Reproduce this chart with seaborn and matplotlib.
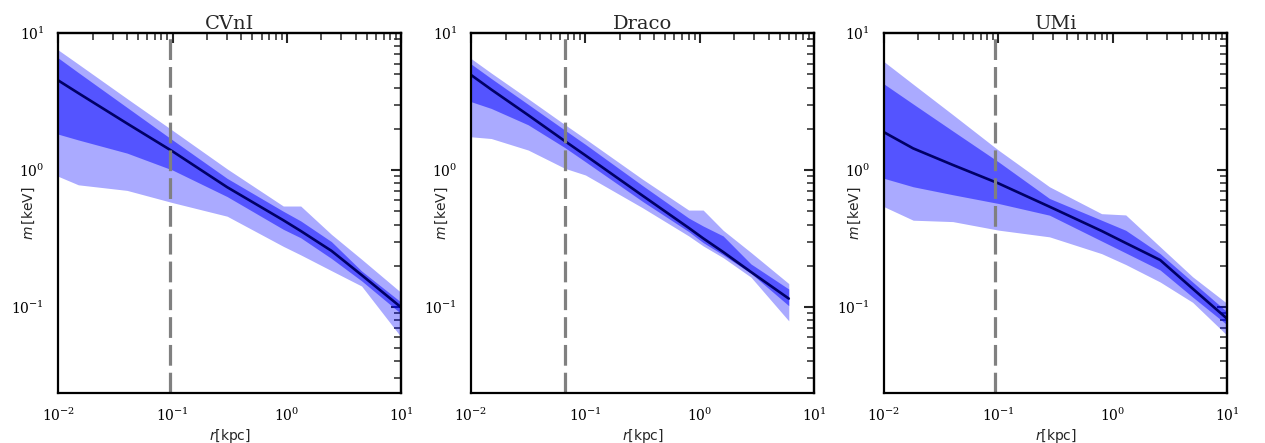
import numpy as np
import pandas as pd
import matplotlib
matplotlib.use('Agg')
import matplotlib.pyplot as plt
import seaborn as sns
from matplotlib.ticker import NullFormatter


# galaxies and the r_half marker (dashed line) for each
galaxies = ['CVnI', 'Draco', 'UMi']
r_marker = [0.095, 0.066, 0.094]

# CVnI  (r in kpc, m in keV)
cvn_r = [0.01, 0.015, 0.04, 0.1, 0.3, 0.93, 1.32, 2.45, 4.5, 10.0]
cvn_med = [4.52, 3.65, 2.19, 1.37, 0.75, 0.43, 0.359, 0.257, 0.171, 0.099]
cvn_hi2 = [7.55, 5.95, 3.33, 1.95, 1.02, 0.546, 0.546, 0.339, 0.223, 0.127]
cvn_hi1 = [6.6, 5.16, 2.87, 1.66, 0.87, 0.50, 0.425, 0.30, 0.183, 0.108]
cvn_lo1 = [1.83, 1.66, 1.33, 1.0, 0.64, 0.369, 0.32, 0.226, 0.155, 0.089]
cvn_lo2 = [0.9, 0.78, 0.71, 0.578, 0.46, 0.277, 0.24, 0.184, 0.142, 0.060]

# Draco
dra_r = [0.01, 0.015, 0.0316, 0.066, 0.1, 0.316, 0.8, 1.07, 1.6, 2.8, 6.0]
dra_med = [4.95, 3.88, 2.52, 1.63, 1.28, 0.65, 0.378, 0.317, 0.252, 0.180, 0.115]
dra_hi2 = [6.53, 5.12, 3.32, 2.15, 1.69, 0.857, 0.51, 0.51, 0.363, 0.25, 0.148]
dra_hi1 = [5.96, 4.67, 3.02, 1.96, 1.54, 0.77, 0.446, 0.39, 0.33, 0.206, 0.135]
dra_lo1 = [3.16, 2.82, 2.14, 1.46, 1.15, 0.59, 0.355, 0.295, 0.24, 0.176, 0.102]
dra_lo2 = [1.75, 1.70, 1.40, 1.03, 0.92, 0.53, 0.33, 0.279, 0.229, 0.165, 0.079]

# UMi
umi_r = [0.01, 0.018, 0.04, 0.1, 0.28, 0.8, 1.3, 2.6, 5.0, 10.0]
umi_med = [1.89, 1.44, 1.09, 0.80, 0.54, 0.359, 0.293, 0.22, 0.136, 0.082]
umi_hi2 = [6.2, 4.24, 2.54, 1.40, 0.755, 0.48, 0.47, 0.275, 0.166, 0.106]
umi_hi1 = [4.26, 3.04, 1.93, 1.15, 0.62, 0.43, 0.363, 0.245, 0.152, 0.092]
umi_lo1 = [0.87, 0.755, 0.66, 0.57, 0.468, 0.303, 0.248, 0.186, 0.118, 0.074]
umi_lo2 = [0.54, 0.43, 0.42, 0.364, 0.325, 0.245, 0.204, 0.152, 0.108, 0.062]

profiles = [
    (cvn_r, cvn_med, cvn_hi2, cvn_hi1, cvn_lo1, cvn_lo2),
    (dra_r, dra_med, dra_hi2, dra_hi1, dra_lo1, dra_lo2),
    (umi_r, umi_med, umi_hi2, umi_hi1, umi_lo1, umi_lo2),
]


sns.set_theme(style='white')
plt.rcParams['font.family'] = ['DejaVu Serif']
plt.rcParams['mathtext.fontset'] = 'dejavusans'

fig, axes = plt.subplots(1, 3, figsize=(12.65, 4.43), dpi=100)
fig.subplots_adjust(left=0.046, right=0.970, bottom=0.113, top=0.925, wspace=0.2035)

for ax, name, rm, (r, med, hi2, hi1, lo1, lo2) in zip(axes, galaxies, r_marker, profiles):
    df = pd.DataFrame({'r': r, 'med': med, 'hi2': hi2, 'hi1': hi1, 'lo1': lo1, 'lo2': lo2})

    # 2 sigma and 1 sigma bands
    ax.fill_between(df['r'], df['lo2'], df['hi2'], color='blue', alpha=1/3, lw=0)
    ax.fill_between(df['r'], df['lo1'], df['hi1'], color='blue', alpha=0.5, lw=0)
    sns.lineplot(data=df, x='r', y='med', ax=ax, color='#000066', lw=1.9)

    ax.axvline(rm, color='grey', lw=2.3, dashes=(6.5, 2.2))

    ax.set_xscale('log')
    ax.set_yscale('log')
    ax.set_xlim(1e-2, 1e1)
    ax.set_ylim(0.0235, 10)

    ax.set_title(name, fontsize=14, pad=3)
    ax.set_xlabel(r'$r$[kpc]', family='DejaVu Sans', fontsize=10, labelpad=2)
    ax.set_ylabel(r'$m\,$[keV]', family='DejaVu Sans', fontsize=10)
    ax.yaxis.set_label_coords(-0.062, 0.5)

    ax.tick_params(which='major', direction='out', length=7, width=1.5, labelsize=10,
                   pad=3, colors='black')
    ax.tick_params(which='minor', direction='out', length=4, width=1.1)
    for sp in ax.spines.values():
        sp.set_linewidth(1.6)
        sp.set_color('black')

    # inward ticks on top and right
    top = ax.secondary_xaxis('top')
    right = ax.secondary_yaxis('right')
    for sec, axis in [(top, top.xaxis), (right, right.yaxis)]:
        sec.tick_params(which='major', direction='in', length=7, width=1.5)
        sec.tick_params(which='minor', direction='in', length=5, width=1.1)
        axis.set_major_formatter(NullFormatter())
        axis.set_minor_formatter(NullFormatter())
        for sp in sec.spines.values():
            sp.set_linewidth(1.6)

plt.savefig('out.png', dpi=100)
